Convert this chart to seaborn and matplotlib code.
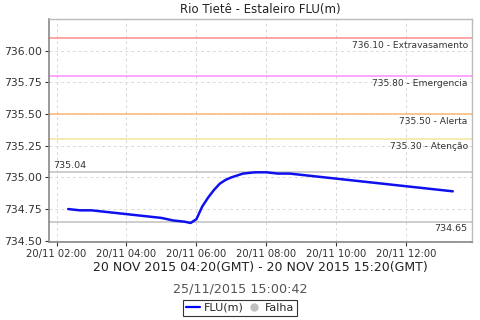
import matplotlib
matplotlib.use("Agg")
import matplotlib.pyplot as plt
import matplotlib.dates as mdates
from matplotlib.lines import Line2D
import pandas as pd
import seaborn as sns

times = ["02:20", "02:40", "03:00", "03:20", "03:40", "04:00", "04:20", "04:40",
         "05:00", "05:20", "05:40", "05:50", "06:00", "06:10", "06:20", "06:30",
         "06:40", "06:50", "07:00", "07:20", "07:40", "08:00", "08:20", "08:40",
         "09:00", "09:20", "09:40", "10:00", "10:20", "10:40", "11:00", "11:20",
         "11:40", "12:00", "12:20", "12:40", "13:00", "13:20"]
flu = [734.75, 734.74, 734.74, 734.73, 734.72, 734.71, 734.70, 734.69,
       734.68, 734.66, 734.65, 734.64, 734.67, 734.77, 734.84, 734.90,
       734.95, 734.98, 735.00, 735.03, 735.04, 735.04, 735.03, 735.03,
       735.02, 735.01, 735.00, 734.99, 734.98, 734.97, 734.96, 734.95,
       734.94, 734.93, 734.92, 734.91, 734.90, 734.89]

ref_values = [736.10, 735.80, 735.50, 735.30]
ref_labels = ["736.10 - Extravasamento", "735.80 - Emergencia", "735.50 - Alerta", "735.30 - Atenção"]
ref_colors = ["#ff8c8c", "#ff8cff", "#ffb870", "#f3e79a"]
max_val = 735.04
min_val = 734.65

title = "Rio Tietê - Estaleiro FLU(m)"
subtitle = "20 NOV 2015 04:20(GMT) - 20 NOV 2015 15:20(GMT)"
stamp = "25/11/2015 15:00:42"

df = pd.DataFrame({"time": pd.to_datetime(["2015-11-20 " + t for t in times]), "flu": flu})

sns.set_theme(style="white")
plt.rcParams["font.family"] = ["DejaVu Sans"]

fig = plt.figure(figsize=(4.8, 3.2), dpi=100)
ax = fig.add_axes([49/480, 1-242/320, (472-49)/480, (242-19)/320])

for v, c in zip(ref_values, ref_colors):
    ax.axhline(v, color=c, lw=1.1, zorder=2)
ax.axhline(max_val, color="#c0c0c0", lw=1.1, zorder=2)
ax.axhline(min_val, color="#c0c0c0", lw=1.1, zorder=2)

sns.lineplot(data=df, x="time", y="flu", ax=ax, color="#1010ee", lw=1.8, zorder=5)

t0 = df["time"].min()
t1 = df["time"].max()
span = t1 - t0
ax.set_xlim(t0 - span * 0.05, t1 + span * 0.05)
ax.set_ylim(734.49, 736.25)

ax.set_yticks([734.50, 734.75, 735.00, 735.25, 735.50, 735.75, 736.00])
ax.yaxis.set_major_formatter(matplotlib.ticker.FormatStrFormatter("%.2f"))
ax.xaxis.set_major_locator(mdates.HourLocator(byhour=range(0, 24, 2)))
ax.xaxis.set_major_formatter(mdates.DateFormatter("%d/%m %H:%M"))

ax.grid(True, color="#d8d8d8", ls=(0, (3, 3)), lw=0.7)
ax.set_xlabel("")
ax.set_ylabel("")
ax.tick_params(axis="both", colors="#333333", length=3, width=0.8,
               direction="out", bottom=True, left=True, pad=2)
ax.tick_params(axis="y", labelsize=7.8)
ax.tick_params(axis="x", labelsize=7.2)
for s in ["left", "bottom"]:
    ax.spines[s].set_color("#888888")
    ax.spines[s].set_linewidth(1.2)
for s in ["top", "right"]:
    ax.spines[s].set_color("#bbbbbb")
    ax.spines[s].set_linewidth(1.0)

xr = ax.get_xlim()
xright = xr[1] - (xr[1] - xr[0]) * 0.01
xleft = xr[0] + (xr[1] - xr[0]) * 0.01
for v, lab in zip(ref_values, ref_labels):
    ax.text(xright, v - 0.02, lab, ha="right", va="top", fontsize=6.6, color="#333333", zorder=6)
ax.text(xleft, max_val + 0.02, f"{max_val:.2f}", ha="left", va="bottom", fontsize=6.8, color="#333333", zorder=6)
ax.text(xright, min_val - 0.02, f"{min_val:.2f}", ha="right", va="top", fontsize=6.8, color="#333333", zorder=6)

fig.text(260/480, 1-10/320, title, ha="center", va="center", fontsize=8.5, color="#222222")
fig.text(260/480, 1-268/320, subtitle, ha="center", va="center", fontsize=9, color="#222222")
fig.text(240/480, 1-289/320, stamp, ha="center", va="center", fontsize=9.2, color="#555555")

handles = [Line2D([0], [0], color="#0000ff", lw=1.6),
           Line2D([0], [0], marker="o", color="none", markerfacecolor="#c0c0c0",
                  markeredgecolor="#c0c0c0", markersize=5)]
leg = fig.legend(handles, ["FLU(m)", "Falha"], loc="center", bbox_to_anchor=(240/480, 1-308/320),
                 ncol=2, fontsize=8, frameon=True, fancybox=False, handlelength=1.3,
                 handletextpad=0.3, columnspacing=0.3, borderpad=0.25, borderaxespad=0)
leg.get_frame().set_edgecolor("#000000")
leg.get_frame().set_linewidth(0.8)

fig.savefig("out.png", dpi=100)
